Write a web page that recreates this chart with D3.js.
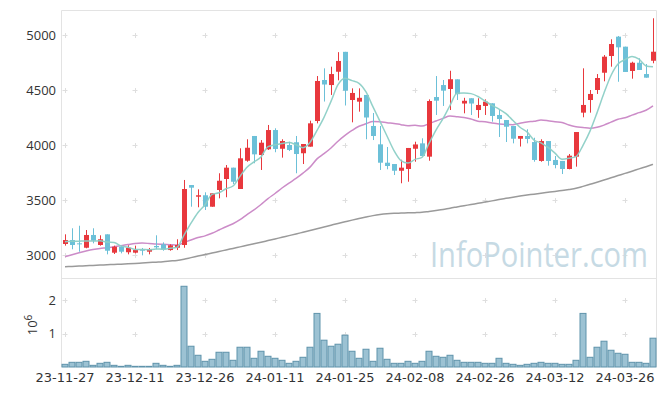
<!DOCTYPE html>
<html><head><meta charset="utf-8">
<script src="https://cdn.jsdelivr.net/npm/d3@7"></script>
<style>html,body{margin:0;padding:0;background:#fff;}svg{display:block;}</style>
</head><body>
<script>
const dates = ["23-11-27","23-11-28","23-11-29","23-11-30","23-12-01","23-12-04","23-12-05","23-12-06","23-12-07","23-12-08",
"23-12-11","23-12-12","23-12-13","23-12-14","23-12-15","23-12-18","23-12-19","23-12-20","23-12-21","23-12-22",
"23-12-26","23-12-27","23-12-28","24-01-02","24-01-03","24-01-04","24-01-05","24-01-08","24-01-09","24-01-10",
"24-01-11","24-01-12","24-01-15","24-01-16","24-01-17","24-01-18","24-01-19","24-01-22","24-01-23","24-01-24",
"24-01-25","24-01-26","24-01-29","24-01-30","24-01-31","24-02-01","24-02-02","24-02-05","24-02-06","24-02-07",
"24-02-08","24-02-13","24-02-14","24-02-15","24-02-16","24-02-19","24-02-20","24-02-21","24-02-22","24-02-23",
"24-02-26","24-02-27","24-02-28","24-02-29","24-03-04","24-03-05","24-03-06","24-03-07","24-03-08","24-03-11",
"24-03-12","24-03-13","24-03-14","24-03-15","24-03-18","24-03-19","24-03-20","24-03-21","24-03-22","24-03-25",
"24-03-26","24-03-27","24-03-28","24-03-29","24-04-01"];
const open = [3100,3136,3106,3066,3182,3091,3188,3021,3075,3025,
3021,3052,3030,3082,3097,3045,3066,3091,3636,3530,
3543,3439,3591,3691,3794,3600,3857,4082,3909,3961,
4136,3966,4000,4025,3925,3985,4218,4591,4545,4666,
4847,4409,4394,4455,4173,4006,3839,3827,3766,3782,
3966,4015,3894,4436,4545,4509,4597,4377,4425,4318,
4355,4379,4273,4227,4173,4057,4082,4027,3855,4036,
3864,3855,3782,3894,4294,4409,4500,4657,4809,4985,
4894,4673,4748,4645,4766];
const high = [3188,3243,3266,3227,3243,3179,3188,3085,3085,3088,
3085,3064,3064,3179,3115,3097,3143,3682,3636,3597,
3570,3561,3743,3818,3794,3970,4052,4082,4045,4182,
4152,4052,4030,4082,4009,4221,4627,4697,4712,4844,
4847,4515,4515,4455,4291,4173,3982,3827,3866,3973,
4030,4061,4415,4627,4591,4675,4597,4429,4425,4425,
4415,4379,4318,4227,4173,4082,4143,4066,4052,4036,
3900,3855,3918,4118,4697,4500,4645,4818,4961,4991,
4894,4757,4788,4736,5152];
const low = [3085,3052,3030,3061,3106,3085,3006,3009,3015,3006,
3015,2997,3006,3052,3039,3039,3045,3066,3439,3434,
3409,3439,3515,3525,3645,3600,3848,3834,3773,3955,
3934,3885,3945,3743,3827,3985,4197,4395,4455,4588,
4359,4206,4303,4052,4045,3773,3779,3727,3652,3666,
3848,3894,3857,4273,4355,4318,4409,4288,4273,4247,
4273,4212,4073,4027,4015,3986,4015,3848,3848,3812,
3788,3736,3779,3803,4252,4294,4464,4579,4712,4575,
4664,4603,4682,4612,4743];
const close = [3136,3091,3097,3182,3130,3143,3039,3075,3030,3066,
3045,3039,3055,3070,3052,3088,3091,3600,3612,3543,
3439,3561,3675,3794,3666,3879,3975,3915,4021,4136,
3964,4036,3955,3918,4009,4197,4582,4550,4645,4764,
4494,4473,4429,4250,4082,3839,3809,3766,3794,3973,
4005,3900,4400,4403,4494,4598,4462,4402,4377,4364,
4394,4264,4236,4166,4057,4082,4055,3864,4036,3855,
3818,3782,3903,4118,4364,4464,4609,4803,4918,4888,
4664,4748,4682,4612,4848];
const volume = [0.08,0.14,0.14,0.17,0.05,0.11,0.14,0.05,0.02,0.05,
0.02,0.02,0.02,0.11,0.05,0.02,0.05,2.41,0.62,0.35,
0.17,0.23,0.44,0.44,0.2,0.59,0.59,0.26,0.47,0.32,
0.26,0.2,0.11,0.17,0.29,0.59,1.6,0.8,0.62,0.68,
0.95,0.47,0.26,0.53,0.17,0.56,0.23,0.11,0.11,0.17,
0.11,0.17,0.47,0.32,0.29,0.35,0.2,0.14,0.14,0.14,
0.11,0.11,0.26,0.11,0.08,0.05,0.08,0.11,0.14,0.11,
0.11,0.08,0.08,0.2,1.6,0.29,0.59,0.77,0.5,0.41,
0.38,0.14,0.14,0.11,0.86];
const ma5 = [3121,3124,3126,3128,3127,3129,3118,3114,3083,3071,
3051,3051,3047,3055,3052,3061,3071,3180,3289,3387,
3457,3551,3566,3602,3627,3715,3798,3846,3891,3985,
4002,4014,4022,4002,3976,4023,4132,4251,4397,4548,
4607,4585,4561,4482,4346,4215,4082,3949,3858,3836,
3869,3888,4014,4136,4240,4359,4471,4472,4467,4441,
4400,4360,4327,4285,4223,4161,4119,4045,4019,3978,
3926,3871,3879,3895,3997,4126,4292,4472,4632,4736,
4776,4804,4780,4719,4711];
const ma20 = [2985,3003,3020,3036,3050,3060,3066,3075,3085,3095,
3105,3108,3105,3100,3097,3094,3090,3113,3137,3159,
3174,3198,3227,3257,3284,3321,3368,3410,3459,3513,
3559,3609,3654,3696,3744,3799,3874,3921,3973,4034,
4087,4132,4170,4193,4214,4212,4203,4196,4185,4176,
4179,4172,4194,4218,4242,4263,4257,4249,4236,4216,
4211,4200,4191,4186,4185,4197,4210,4215,4227,4221,
4211,4205,4181,4166,4160,4153,4161,4181,4208,4234,
4247,4272,4294,4316,4356];
const ma60 = [2893,2896,2899,2902,2905,2908,2911,2914,2917,2920,
2923,2927,2931,2935,2939,2945,2951,2962,2976,2990,
3004,3018,3032,3046,3060,3074,3088,3102,3116,3131,
3146,3161,3176,3191,3207,3223,3239,3255,3271,3287,
3302,3317,3331,3345,3358,3368,3375,3379,3381,3383,
3385,3388,3396,3404,3413,3426,3437,3448,3459,3470,
3481,3492,3504,3515,3526,3536,3545,3553,3562,3570,
3578,3587,3596,3606,3624,3643,3662,3682,3702,3722,
3742,3762,3783,3803,3824];
const priceTicks = [3000,3500,4000,4500,5000];
const volTicks = [1,2];
const dateTickEvery = 10;

const W = 665, H = 396;
const L = 61.5, R = 656.5, T = 10, MB = 278, VB = 367;
const svg = d3.select("body").append("svg").attr("width", W).attr("height", H);
const FONT = "'Open Sans', 'Noto Sans', sans-serif";
const XFONT = "'DejaVu Sans', sans-serif";

const idx = d3.range(dates.length);
const x = d3.scaleBand().domain(idx).range([L, R]).padding(0);
const cx = i => x(i) + x.bandwidth() / 2;
const y = d3.scaleLinear().domain([2790.9, 5227.3]).range([MB, T]);
const yv = d3.scaleLinear().domain([0, 2.657]).range([VB, MB]);

const tickIdx = idx.filter(i => i % dateTickEvery === 0);

// frame
const frame = svg.append("g").attr("fill", "none").attr("stroke", "#e3e3e3").attr("stroke-width", 1);
frame.append("path").attr("d", `M${L},${VB}V${T + 0.5}H${R}V${VB}`);
frame.append("line").attr("x1", L).attr("x2", R).attr("y1", MB + 0.5).attr("y2", MB + 0.5);

// grid crosses
const crosses = [];
tickIdx.forEach(i => {
  priceTicks.forEach(v => crosses.push([cx(i), y(v)]));
  volTicks.forEach(v => crosses.push([cx(i), yv(v)]));
});
svg.append("g").attr("stroke", "#dedede").attr("stroke-width", 1)
  .selectAll("path").data(crosses).join("path")
  .attr("d", d => `M${Math.round(d[0]) - 2.5},${Math.round(d[1]) + 0.5}h5M${Math.round(d[0]) + 0.5},${Math.round(d[1]) - 2}v5`);

// watermark
svg.append("text").text("InfoPointer.com")
  .attr("x", 430).attr("y", 267)
  .attr("font-family", FONT).attr("font-size", 34)
  .attr("textLength", 218).attr("lengthAdjust", "spacingAndGlyphs")
  .attr("fill", "#c6dae4");

// moving averages
const lineGen = arr => d3.line().x((d, i) => cx(i)).y(d => y(d)).curve(d3.curveMonotoneX)(arr);
svg.append("path").attr("d", lineGen(ma60)).attr("fill", "none").attr("stroke", "#9a9a9a").attr("stroke-width", 1.5);
svg.append("path").attr("d", lineGen(ma20)).attr("fill", "none").attr("stroke", "#cc8cc8").attr("stroke-width", 1.5);

// candles
const UP = "#e8383d", DOWN = "#6cc0d8";
const cg = svg.append("g");
idx.forEach(i => {
  const up = close[i] >= open[i];
  const col = up ? UP : DOWN;
  const xc = Math.round(cx(i)) + 0.5;
  cg.append("line").attr("x1", xc).attr("x2", xc).attr("y1", y(high[i])).attr("y2", y(low[i]))
    .attr("stroke", col).attr("stroke-width", 1);
  const top = y(Math.max(open[i], close[i])), bot = y(Math.min(open[i], close[i]));
  cg.append("rect").attr("x", xc - 2.5).attr("width", 5)
    .attr("y", top).attr("height", Math.max(1, bot - top)).attr("fill", col);
});
svg.append("path").attr("d", lineGen(ma5)).attr("fill", "none").attr("stroke", "#8ccfc6").attr("stroke-width", 1.5).attr("opacity", 0.95);

// volume bars
svg.append("g").selectAll("rect").data(idx).join("rect")
  .attr("x", i => x(i) + 0.5).attr("width", x.bandwidth() - 1)
  .attr("y", i => yv(volume[i])).attr("height", i => VB - yv(volume[i]))
  .attr("fill", "#9cc2d3").attr("stroke", "#5f93ab").attr("stroke-width", 1);

// y axis labels (price)
svg.append("g").selectAll("text").data(priceTicks).join("text")
  .attr("x", 56).attr("y", d => y(d)).attr("dy", "0.35em").attr("text-anchor", "end")
  .attr("font-family", FONT).attr("font-size", 13).attr("fill", "#333").text(d => d);
// volume labels
svg.append("g").selectAll("text").data(volTicks).join("text")
  .attr("x", 56).attr("y", d => yv(d)).attr("dy", "0.35em").attr("text-anchor", "end")
  .attr("font-family", FONT).attr("font-size", 13).attr("fill", "#333").text(d => d);
const vl = svg.append("text").attr("transform", "translate(37,325) rotate(-90)")
  .attr("text-anchor", "middle").attr("font-family", FONT).attr("font-size", 13).attr("fill", "#333");
vl.append("tspan").text("10");
vl.append("tspan").attr("dy", "-0.5em").attr("font-size", 10).text("6");

// x labels
svg.append("g").selectAll("text").data(tickIdx).join("text")
  .attr("x", i => cx(i)).attr("y", 382).attr("text-anchor", "middle")
  .attr("font-family", XFONT).attr("font-size", 13).attr("fill", "#333").text(i => dates[i]);
</script>
</body></html>
